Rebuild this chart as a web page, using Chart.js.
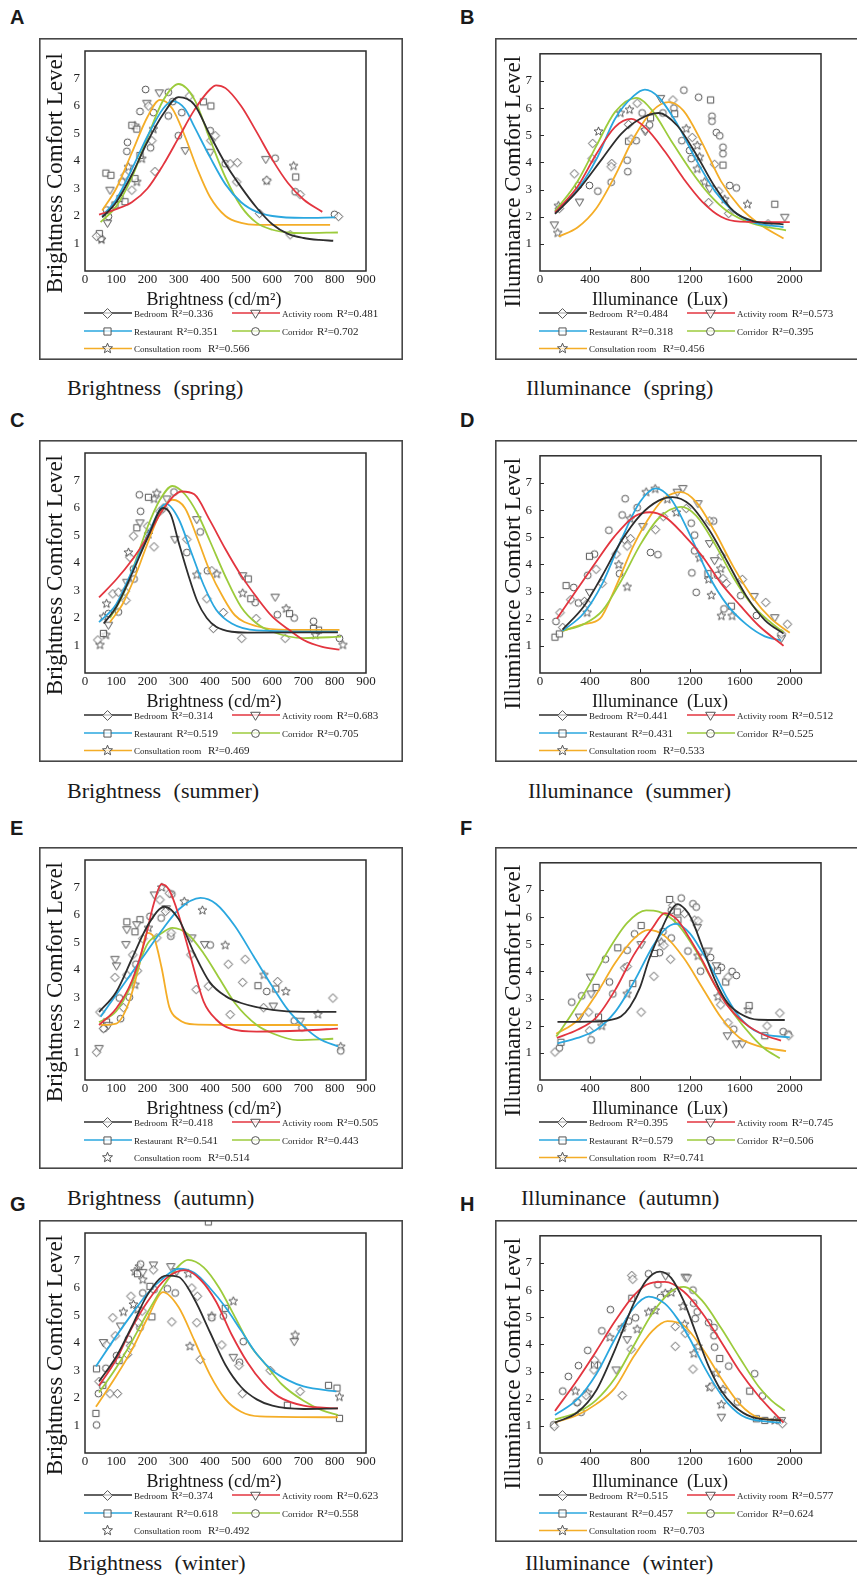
<!DOCTYPE html>
<html>
<head>
<meta charset="utf-8">
<title>Brightness and illuminance comfort level</title>
<script src="https://cdn.jsdelivr.net/npm/chart.js@4.4.1/dist/chart.umd.min.js"></script>
<style>
    html, body { margin: 0; padding: 0; background: #fff; }
    body { position: relative; width: 857px; height: 1585px; overflow: hidden;
           font-family: "Liberation Serif", "Times New Roman", serif; color: #1a1a1a; }
    .tag { position: absolute; font: bold 20px "Liberation Sans", Arial, sans-serif; line-height: 20px; }
    .caption { position: absolute; font-size: 22px; line-height: 22px; word-spacing: 7px; white-space: nowrap; }
    canvas { position: absolute; }
</style>
</head>
<body>
<script>

//////////////////////////////////////////      Data     ///////////////////////////////////////////

const ROOMS = ['Bedroom', 'Activity room', 'Restaurant', 'Corridor', 'Consultation room'];

// A - brightness, spring
const fitA_bed = [[55,1.95],[100,2.5],[150,3.5],[200,4.7],[250,5.7],[300,6.32],[350,6.05],[400,4.95],[450,3.9],[500,3.05],[550,2.3],[600,1.7],[650,1.35],[700,1.2],[750,1.13],[795,1.1]];
const fitA_act = [[45,2.05],[100,2.25],[150,2.5],[200,3.0],[250,3.85],[300,4.85],[350,5.85],[400,6.6],[420,6.75],[450,6.65],[500,6.0],[550,5.05],[600,4.05],[650,3.2],[700,2.6],[760,2.15]];
const fitA_res = [[55,2.0],[100,2.6],[150,3.7],[200,4.9],[250,5.9],[280,6.18],[320,5.9],[350,5.25],[400,4.15],[450,3.15],[500,2.5],[550,2.15],[600,2.0],[700,1.93],[800,1.95]];
const fitA_cor = [[50,1.78],[100,2.35],[150,3.4],[200,4.85],[250,6.2],[300,6.8],[350,6.25],[400,4.8],[450,3.4],[500,2.35],[550,1.75],[600,1.5],[650,1.4],[700,1.38],[810,1.4]];
const fitA_con = [[55,2.2],[100,3.0],[150,4.3],[200,5.6],[240,6.22],[280,5.9],[320,4.9],[360,3.7],[400,2.7],[450,2.0],[500,1.75],[550,1.68],[785,1.68]];
const ptsA_bed = [[37,1.26],[128,3.48],[203,6.0],[214,4.74],[224,3.62],[334,6.36],[403,4.74],[417,4.92],[465,3.9],[488,3.94],[486,3.24],[582,3.3],[689,2.78],[559,2.09],[657,1.32],[812,1.98],[150,2.94]];
const ptsA_act = [[80,2.94],[72,1.74],[238,6.48],[321,4.38],[401,4.32],[579,4.06],[198,6.1]];
const ptsA_res = [[67,3.56],[83,3.48],[96,2.4],[112,2.64],[150,5.3],[379,6.15],[403,6.0],[675,3.42],[166,5.16],[176,4.2],[160,3.36],[128,2.52],[46,1.36]];
const ptsA_cor = [[69,2.22],[75,1.98],[118,3.24],[134,4.35],[136,4.68],[176,5.8],[194,6.6],[210,4.48],[219,5.76],[267,6.5],[267,5.64],[299,4.92],[281,6.16],[310,5.76],[401,5.1],[449,3.9],[609,4.1],[673,2.88],[799,2.06],[51,1.18]];
const ptsA_con = [[139,3.78],[160,5.28],[219,5.16],[582,3.28],[668,3.82],[182,4.08],[166,3.24],[53,1.14]];
const r2A = [0.336, 0.481, 0.351, 0.702, 0.566];

// B - illuminance, spring
const fitB_bed = [[120,2.1],[300,2.95],[500,4.15],[650,5.05],[800,5.6],[950,5.82],[1100,5.35],[1250,4.3],[1400,3.1],[1550,2.2],[1700,1.85],[1950,1.72]];
const fitB_act = [[120,2.15],[300,3.1],[450,4.3],[600,5.3],[730,5.6],[850,5.25],[1000,4.4],[1150,3.4],[1300,2.55],[1450,2.0],[1600,1.82],[2000,1.8]];
const fitB_res = [[120,2.15],[300,3.0],[450,4.1],[600,5.6],[750,6.45],[840,6.68],[950,6.4],[1100,5.4],[1250,4.1],[1400,2.95],[1550,2.2],[1700,1.8],[1950,1.62]];
const fitB_cor = [[120,2.2],[300,3.3],[450,4.6],[600,5.85],[770,6.38],[900,5.9],[1050,4.8],[1200,3.75],[1350,2.85],[1500,2.2],[1700,1.75],[1970,1.5]];
const fitB_con = [[150,1.27],[300,1.6],[450,2.3],[600,3.5],[750,4.9],[900,5.9],[1030,6.22],[1150,5.9],[1300,4.7],[1450,3.3],[1600,2.35],[1750,1.75],[1950,1.2]];
const ptsB_bed = [[155,2.3],[275,3.58],[422,4.7],[417,4.14],[575,3.96],[570,3.84],[709,5.4],[730,4.86],[778,6.18],[845,5.22],[1064,6.3],[1219,4.92],[1398,3.93],[1431,2.94],[1511,2.12],[1350,2.52],[1826,1.74]];
const ptsB_act = [[115,1.7],[316,2.54],[842,5.14],[965,6.36],[1358,3.03],[1960,1.98]];
const ptsB_res = [[709,4.78],[885,5.64],[1078,5.79],[1366,6.3],[1465,3.9],[1880,2.46]];
const ptsB_cor = [[307,3.15],[396,3.15],[463,2.94],[570,3.27],[698,4.08],[703,3.66],[770,4.8],[818,5.82],[877,5.38],[984,5.82],[1072,6.0],[1152,6.66],[1136,4.8],[1198,4.44],[1211,4.14],[1270,6.4],[1377,5.7],[1377,5.52],[1412,5.1],[1439,4.98],[1465,4.56],[1465,4.32],[1519,3.15],[1572,3.06]];
const ptsB_con = [[142,1.4],[147,2.4],[468,5.14],[644,5.82],[717,5.94],[1171,5.24],[1259,4.62],[1278,4.2],[1259,3.76],[1318,3.28],[1479,2.64],[1661,2.46]];
const r2B = [0.484, 0.573, 0.318, 0.395, 0.456];

// C - brightness, summer
const fitC_bed = [[60,1.8],[100,2.4],[150,3.6],[200,4.9],[250,6.0],[275,5.75],[300,4.75],[330,3.6],[360,2.6],[390,2.0],[420,1.68],[470,1.5],[520,1.47],[810,1.48]];
const fitC_act = [[45,2.75],[100,3.4],[150,4.1],[200,4.95],[250,5.95],[310,6.6],[350,6.5],[400,5.55],[450,4.5],[500,3.55],[550,2.75],[600,2.05],[650,1.6],[700,1.2],[760,0.95],[815,0.85]];
const fitC_res = [[45,1.85],[100,2.5],[150,3.7],[200,5.0],[260,6.15],[300,5.6],[340,4.4],[380,3.2],[420,2.3],[470,1.8],[550,1.55],[810,1.5]];
const fitC_cor = [[80,2.0],[120,2.8],[160,4.0],[200,5.3],[240,6.3],[280,6.8],[320,6.5],[360,5.8],[400,4.8],[450,3.5],[500,2.4],[550,1.8],[600,1.5],[700,1.27],[820,1.32]];
const fitC_con = [[80,1.85],[120,2.5],[160,3.5],[200,4.7],[240,5.8],[280,6.3],[320,6.0],[360,4.9],[400,3.7],[440,2.8],[480,2.1],[550,1.7],[650,1.57],[815,1.57]];
const ptsC_bed = [[41,1.2],[89,2.88],[107,2.94],[131,2.64],[128,2.97],[144,4.2],[155,4.98],[201,5.34],[221,4.59],[240,5.88],[251,6.0],[326,4.86],[390,2.7],[406,3.72],[443,2.2],[411,1.62],[548,1.98],[502,1.26],[641,1.26]];
const ptsC_act = [[75,1.74],[134,3.3],[176,5.46],[262,6.33],[288,4.86],[358,5.58],[505,3.54],[609,2.76]];
const ptsC_res = [[59,1.44],[166,5.28],[203,6.39],[523,3.42],[531,2.7],[655,2.16],[748,1.56],[732,1.62]];
const ptsC_cor = [[75,2.16],[107,2.22],[155,3.78],[157,3.42],[174,6.48],[178,5.88],[285,6.58],[326,4.38],[369,5.13],[392,3.72],[545,2.56],[616,2.12],[670,2.0],[732,1.88],[815,1.26]];
const ptsC_con = [[48,1.02],[67,1.38],[69,2.52],[59,2.04],[139,4.38],[203,5.04],[230,6.54],[221,6.33],[358,3.57],[422,3.6],[505,2.9],[644,2.34],[738,1.38],[826,1.02]];
const r2C = [0.314, 0.683, 0.519, 0.705, 0.469];

// D - illuminance, summer
const fitD_bed = [[180,1.6],[350,2.45],[500,3.6],[650,4.85],[800,5.8],[950,6.35],[1060,6.48],[1200,6.2],[1350,5.3],[1500,4.1],[1650,2.85],[1800,1.95],[1950,1.45]];
const fitD_act = [[135,2.0],[300,3.1],[450,4.1],[600,5.05],[750,5.75],[880,5.92],[1000,5.75],[1150,5.1],[1300,4.3],[1450,3.3],[1600,2.5],[1750,1.75],[1950,1.0]];
const fitD_res = [[180,1.55],[350,2.2],[500,3.3],[650,4.9],[800,6.3],[930,6.8],[1050,6.4],[1200,5.1],[1350,3.6],[1500,2.5],[1650,1.8],[1800,1.35],[1930,1.2]];
const fitD_cor = [[180,1.55],[350,1.8],[500,2.3],[650,3.4],[800,4.7],[950,5.7],[1130,6.12],[1250,5.8],[1400,4.75],[1550,3.5],[1700,2.5],[1850,1.85],[1950,1.5]];
const fitD_con = [[180,1.55],[350,1.8],[480,2.0],[600,3.1],[750,4.7],[900,5.9],[1000,6.45],[1130,6.66],[1250,6.3],[1400,5.2],[1550,3.9],[1700,2.8],[1850,2.0],[2000,1.48]];
const ptsD_bed = [[160,2.22],[182,1.68],[246,2.7],[356,2.64],[377,2.56],[449,3.82],[497,3.3],[610,4.38],[676,4.92],[698,4.68],[725,4.95],[925,5.28],[987,5.76],[1171,6.06],[1358,5.6],[1452,4.32],[1465,3.48],[1492,3.3],[1620,3.45],[1808,2.6],[1933,1.44],[1981,1.8]];
const ptsD_act = [[396,2.97],[824,5.4],[1099,6.66],[1144,6.8],[1265,6.24],[1358,4.77],[1398,4.14],[1714,2.82],[1880,2.04],[1933,1.28]];
const ptsD_res = [[120,1.32],[155,1.44],[209,3.22],[396,4.3],[1345,3.66],[1532,2.46]];
const ptsD_cor = [[128,1.9],[270,3.15],[308,2.58],[436,4.38],[382,3.6],[551,5.26],[637,3.66],[682,6.42],[658,5.82],[778,6.09],[885,4.44],[944,4.36],[1211,5.52],[1238,5.08],[1238,4.5],[1216,3.69],[1251,2.97],[1390,5.6],[1420,3.6],[1473,2.36],[1607,2.85],[1733,2.12]];
const ptsD_con = [[377,2.22],[631,3.99],[698,3.17],[722,5.68],[850,6.66],[922,6.78],[1019,6.4],[1091,5.91],[1278,4.24],[1350,3.45],[1447,3.84],[1372,2.86],[1452,2.1],[1538,2.1]];
const r2D = [0.441, 0.512, 0.431, 0.525, 0.533];

// E - brightness, autumn
const fitE_bed = [[45,2.47],[100,3.2],[150,4.4],[200,5.6],[255,6.3],[300,5.85],[350,4.6],[400,3.55],[450,3.05],[500,2.8],[600,2.55],[700,2.48],[805,2.48]];
const fitE_act = [[45,2.0],[100,2.6],[150,3.6],[190,5.0],[220,6.4],[245,7.12],[270,6.9],[300,6.0],[340,4.4],[380,2.85],[420,2.2],[470,1.85],[550,1.76],[700,1.8],[810,1.87]];
const fitE_res = [[50,2.3],[100,3.1],[150,3.9],[200,4.7],[250,5.5],[300,6.2],[370,6.62],[420,6.4],[480,5.6],[540,4.5],[600,3.4],[650,2.55],[700,1.95],[750,1.5],[810,1.22]];
const fitE_cor = [[45,2.1],[100,2.5],[150,3.5],[200,4.95],[240,5.3],[280,5.53],[330,5.3],[380,4.6],[430,3.7],[480,2.8],[550,2.0],[600,1.7],[680,1.45],[795,1.5]];
const fitE_con = [[50,2.0],[100,2.05],[140,2.8],[170,4.0],[200,5.35],[220,5.2],[245,4.1],[270,2.65],[300,2.2],[350,2.02],[500,2.0],[810,2.0]];
const ptsE_bed = [[37,1.01],[48,2.47],[59,1.87],[96,3.73],[123,2.63],[134,3.82],[153,4.55],[168,3.97],[185,5.14],[230,5.17],[240,6.55],[258,6.13],[270,6.79],[276,5.35],[339,4.55],[356,3.29],[395,3.41],[459,4.21],[513,4.39],[505,3.55],[572,2.63],[617,3.58],[465,2.38],[794,2.98]];
const ptsE_act = [[45,1.15],[75,1.99],[96,4.39],[101,4.15],[131,4.93],[134,5.47],[166,5.65],[222,6.73],[260,6.23],[342,5.17],[383,4.93],[603,2.69],[689,2.14]];
const ptsE_res = [[69,2.11],[134,5.75],[160,5.39],[176,5.83],[554,3.43],[611,3.31]];
const ptsE_cor = [[61,1.87],[110,2.98],[114,2.23],[142,3.01],[163,4.21],[208,5.95],[244,5.89],[278,6.76],[275,5.23],[401,4.91],[582,3.22],[670,2.15],[695,1.9],[819,1.06]];
const ptsE_con = [[160,3.46],[203,5.53],[246,7.0],[318,6.49],[376,6.17],[449,4.9],[573,3.82],[643,3.22],[746,2.39],[819,1.21]];
const r2E = [0.418, 0.505, 0.541, 0.443, 0.514];

// F - illuminance, autumn
const fitF_bed = [[140,2.14],[400,2.15],[550,2.2],[650,2.35],[720,2.7],[800,3.4],[870,4.4],[950,5.3],[1030,6.1],[1100,6.48],[1160,6.3],[1211,5.95],[1300,4.9],[1400,3.7],[1500,2.85],[1600,2.45],[1750,2.22],[1960,2.21]];
const fitF_act = [[135,1.55],[300,1.85],[450,2.3],[600,3.3],[750,4.6],[900,5.6],[1000,6.15],[1100,5.9],[1200,5.2],[1300,4.4],[1400,3.5],[1500,2.75],[1650,2.05],[1800,1.65],[1930,1.45]];
const fitF_res = [[140,1.35],[300,1.55],[450,1.85],[600,2.5],[750,3.6],[900,4.9],[1000,5.55],[1090,5.75],[1200,5.4],[1300,4.7],[1400,3.9],[1500,3.0],[1600,2.3],[1750,1.75],[2000,1.57]];
const fitF_cor = [[130,1.6],[250,2.4],[400,3.55],[550,4.8],[700,5.8],[850,6.25],[950,6.2],[1100,5.75],[1250,4.75],[1400,3.5],[1550,2.45],[1700,1.6],[1800,1.15],[1920,0.8]];
const fitF_con = [[130,1.7],[300,2.2],[450,3.15],[600,4.3],[750,5.2],[870,5.53],[1000,5.3],[1150,4.5],[1300,3.4],[1450,2.3],[1600,1.55],[1750,1.25],[1970,1.06]];
const ptsF_bed = [[120,1.03],[390,2.5],[396,1.81],[677,4.13],[698,4.18],[810,2.5],[912,3.82],[992,4.96],[1045,4.45],[1064,6.43],[1158,6.13],[1238,5.89],[1265,5.86],[1447,2.77],[1505,3.79],[1505,2.11],[1818,1.99],[1920,2.47],[1992,1.63]];
const ptsF_act = [[316,2.32],[404,3.79],[409,3.17],[810,4.99],[1259,5.62],[1345,4.75],[1412,4.21],[1500,1.63],[1572,1.33],[1620,1.33]];
const ptsF_res = [[168,1.39],[449,3.41],[468,2.32],[623,4.87],[743,3.55],[810,5.69],[917,4.66],[1038,6.65],[1099,6.19],[1104,5.89],[1420,4.03],[1487,3.61],[1674,2.74],[1800,1.63]];
const ptsF_cor = [[155,1.18],[254,2.87],[334,3.1],[409,1.48],[524,4.45],[556,3.61],[583,3.17],[698,4.78],[757,5.38],[957,4.69],[984,5.47],[1051,5.23],[1051,6.25],[1131,6.7],[1185,4.75],[1225,6.49],[1251,6.37],[1286,4.01],[1366,4.51],[1452,4.15],[1538,4.0],[1572,3.85],[1551,1.87],[1947,1.78],[1987,1.69]];
const ptsF_con = [[495,1.99],[698,3.17],[971,5.08],[1265,4.57],[1425,3.07],[1666,2.59]];
const r2F = [0.395, 0.745, 0.579, 0.506, 0.741];

// G - brightness, winter
const fitG_bed = [[45,2.6],[100,3.5],[150,4.6],[200,5.75],[260,6.45],[300,6.4],[350,5.6],[400,4.4],[450,3.2],[500,2.4],[550,1.95],[600,1.72],[700,1.6],[810,1.62]];
const fitG_act = [[45,2.45],[100,3.4],[150,4.55],[200,5.5],[260,6.35],[320,6.65],[370,6.3],[420,5.5],[470,4.3],[520,3.3],[570,2.55],[620,2.05],[700,1.72],[810,1.62]];
const fitG_res = [[35,3.15],[100,4.25],[150,5.05],[200,5.8],[250,6.35],[300,6.7],[350,6.55],[400,6.0],[450,5.3],[500,4.45],[550,3.6],[600,3.0],[650,2.65],[700,2.42],[805,2.24]];
const fitG_cor = [[45,2.2],[100,3.1],[150,4.05],[200,5.1],[250,6.05],[300,6.8],[330,7.02],[380,6.75],[430,6.0],[480,4.95],[530,3.9],[580,3.2],[630,2.5],[700,1.9],[760,1.55],[810,1.38]];
const fitG_con = [[35,1.68],[100,2.8],[150,3.75],[200,4.9],[250,5.85],[300,5.3],[350,4.1],[400,2.85],[450,1.95],[500,1.5],[560,1.33],[810,1.3]];
const ptsG_bed = [[45,2.6],[69,3.93],[80,2.16],[104,2.16],[89,4.92],[97,4.26],[136,3.58],[147,5.7],[146,3.9],[171,4.74],[183,5.16],[219,6.66],[278,4.77],[342,6.0],[369,3.4],[360,5.7],[358,4.74],[438,3.93],[493,3.18],[504,2.16],[593,3.0],[689,2.24]];
const ptsG_act = [[59,4.02],[114,4.62],[185,6.57],[219,6.84],[275,6.78],[294,6.6],[475,3.48],[670,4.05]];
const ptsG_res = [[35,1.44],[37,3.06],[57,2.46],[109,3.36],[168,6.52],[214,4.95],[208,6.06],[449,5.26],[648,1.74],[780,2.46],[807,2.36],[815,1.26],[395,8.4]];
const ptsG_cor = [[37,1.02],[43,2.16],[67,3.08],[101,3.54],[139,4.14],[178,6.87],[185,5.82],[176,4.56],[221,5.94],[264,5.97],[289,5.82],[406,4.92],[443,4.98],[495,3.3],[507,4.05]];
const ptsG_con = [[123,5.13],[155,5.4],[160,6.6],[174,6.78],[185,6.3],[169,5.22],[331,6.52],[336,3.88],[406,4.98],[475,5.52],[673,4.29],[815,2.04]];
const r2G = [0.374, 0.623, 0.618, 0.558, 0.492];

// H - illuminance, winter
const fitH_bed = [[120,1.12],[300,1.5],[450,2.3],[600,3.8],[750,5.5],[850,6.35],[960,6.68],[1050,6.45],[1150,5.6],[1250,4.4],[1350,3.2],[1450,2.3],[1550,1.75],[1700,1.32],[1930,1.2]];
const fitH_act = [[120,1.55],[300,2.7],[450,3.75],[600,4.85],[750,5.8],[880,6.25],[1000,6.3],[1150,5.95],[1300,5.15],[1450,4.1],[1600,3.0],[1750,2.1],[1850,1.6],[1950,1.12]];
const fitH_res = [[120,1.4],[300,1.98],[450,2.9],[600,4.2],[750,5.35],[870,5.76],[1000,5.5],[1100,4.95],[1200,4.2],[1300,3.3],[1400,2.5],[1500,1.85],[1650,1.3],[1930,1.12]];
const fitH_cor = [[120,1.24],[300,1.5],[450,1.95],[600,2.75],[750,3.95],[900,5.15],[1050,5.95],[1150,6.12],[1300,5.6],[1450,4.6],[1600,3.5],[1750,2.45],[1850,1.95],[1960,1.56]];
const fitH_con = [[120,1.12],[300,1.4],[450,1.8],[600,2.4],[750,3.55],[900,4.5],[1020,4.86],[1150,4.7],[1300,3.85],[1450,2.75],[1600,1.8],[1750,1.3],[1930,1.2]];
const ptsH_bed = [[115,0.98],[297,1.88],[369,2.12],[431,3.06],[436,3.42],[658,2.12],[650,4.56],[735,6.54],[743,6.4],[730,3.82],[1083,4.66],[1083,3.93],[1163,4.41],[1225,3.09],[1372,2.44],[1941,1.08]];
const ptsH_act = [[610,3.06],[698,4.18],[1005,6.52],[1163,6.48],[1179,6.45],[1452,1.32],[1933,1.2]];
const ptsH_res = [[436,3.24],[735,5.7],[1439,3.48],[1679,2.28],[1733,1.26],[1800,1.2]];
const ptsH_cor = [[110,1.04],[182,2.28],[227,2.82],[297,1.86],[308,3.22],[329,1.5],[382,3.78],[463,3.24],[495,4.5],[564,5.28],[709,4.86],[765,4.98],[869,6.6],[944,6.2],[965,5.73],[1225,6.0],[1230,5.52],[1259,5.2],[1243,4.95],[1350,4.8],[1393,4.62],[1393,4.32],[1398,3.9],[1511,3.2],[1580,1.88],[1719,2.92],[1781,2.1]];
const ptsH_con = [[283,2.28],[382,2.22],[559,4.26],[658,4.62],[778,4.56],[869,5.19],[922,5.25],[1003,5.88],[1051,5.91],[1144,5.4],[1158,4.74],[1232,3.66],[1265,3.92],[1358,2.42],[1412,2.94],[1452,1.78],[1465,2.34],[1880,1.2]];
const r2H = [0.515, 0.577, 0.457, 0.624, 0.703];

const yTicks = [1, 2, 3, 4, 5, 6, 7];
const brightTicks = [0, 100, 200, 300, 400, 500, 600, 700, 800, 900];
const luxTicks = [0, 400, 800, 1200, 1600, 2000];

//////////////////////////////////////////      Layout     ///////////////////////////////////////////

const SERIF = '"Liberation Serif", "Times New Roman", serif';
const CURVE_COLORS = ['#2e2e2e', '#e3353f', '#2aa7df', '#9ccb3c', '#f4ad27'];
const MARKERS = ['diamond', 'triangleDown', 'square', 'circle', 'star'];

const rowTop = [38, 440, 847, 1220];
const tagY = [7, 410, 818, 1194];
const capY = [377, 780, 1187, 1552];
const capXLeft = [67, 67, 67, 68];
const capXRight = [526, 528, 521, 525];

const panels = [
    { tag: 'A', row: 0, lux: false, caption: 'Brightness (spring)', r2: r2A,
      fits: [fitA_bed, fitA_act, fitA_res, fitA_cor, fitA_con], pts: [ptsA_bed, ptsA_act, ptsA_res, ptsA_cor, ptsA_con] },
    { tag: 'B', row: 0, lux: true, caption: 'Illuminance (spring)', r2: r2B,
      fits: [fitB_bed, fitB_act, fitB_res, fitB_cor, fitB_con], pts: [ptsB_bed, ptsB_act, ptsB_res, ptsB_cor, ptsB_con] },
    { tag: 'C', row: 1, lux: false, caption: 'Brightness (summer)', r2: r2C,
      fits: [fitC_bed, fitC_act, fitC_res, fitC_cor, fitC_con], pts: [ptsC_bed, ptsC_act, ptsC_res, ptsC_cor, ptsC_con] },
    { tag: 'D', row: 1, lux: true, caption: 'Illuminance (summer)', r2: r2D,
      fits: [fitD_bed, fitD_act, fitD_res, fitD_cor, fitD_con], pts: [ptsD_bed, ptsD_act, ptsD_res, ptsD_cor, ptsD_con] },
    { tag: 'E', row: 2, lux: false, caption: 'Brightness (autumn)', r2: r2E, starOnly: true,
      fits: [fitE_bed, fitE_act, fitE_res, fitE_cor, fitE_con], pts: [ptsE_bed, ptsE_act, ptsE_res, ptsE_cor, ptsE_con] },
    { tag: 'F', row: 2, lux: true, caption: 'Illuminance (autumn)', r2: r2F,
      fits: [fitF_bed, fitF_act, fitF_res, fitF_cor, fitF_con], pts: [ptsF_bed, ptsF_act, ptsF_res, ptsF_cor, ptsF_con] },
    { tag: 'G', row: 3, lux: false, caption: 'Brightness (winter)', r2: r2G, starOnly: true,
      fits: [fitG_bed, fitG_act, fitG_res, fitG_cor, fitG_con], pts: [ptsG_bed, ptsG_act, ptsG_res, ptsG_cor, ptsG_con] },
    { tag: 'H', row: 3, lux: true, caption: 'Illuminance (winter)', r2: r2H,
      fits: [fitH_bed, fitH_act, fitH_res, fitH_cor, fitH_con], pts: [ptsH_bed, ptsH_act, ptsH_res, ptsH_cor, ptsH_con] }
];

//////////////////////////////////////////      Markers     ///////////////////////////////////////////

/*
 * Function:    makeMarker
 *
 * Description: Draw one hollow grey marker on a small canvas, used as pointStyle.
 *
 * In:  shape, k (scale)
 * Out: canvas
 *
 */
function makeMarker(shape, k) {

    const c = document.createElement('canvas');
    c.width = c.height = 2 * Math.ceil(6 * k) + 1;
    const g = c.getContext('2d');
    const m = c.width / 2;

    g.beginPath();
    switch (shape) {
        case 'circle' :       g.arc(m, m, 3.4 * k, 0, Math.PI * 2);
                              break;

        case 'square' :       g.rect(m - 3.1 * k, m - 3.1 * k, 6.2 * k, 6.2 * k);
                              break;

        case 'diamond' :      g.moveTo(m, m - 4.3 * k); g.lineTo(m + 4.3 * k, m);
                              g.lineTo(m, m + 4.3 * k); g.lineTo(m - 4.3 * k, m);
                              g.closePath();
                              break;

        case 'triangleDown' : g.moveTo(m - 4.2 * k, m - 2.8 * k); g.lineTo(m + 4.2 * k, m - 2.8 * k);
                              g.lineTo(m, m + 4.2 * k);
                              g.closePath();
                              break;

        case 'star' :         for (let i = 0; i < 10; i++) {
                                  const r = (i % 2 === 0 ? 4.6 : 2.0) * k;
                                  const a = -Math.PI / 2 + i * Math.PI / 5;
                                  if (i === 0) g.moveTo(m + r * Math.cos(a), m + r * Math.sin(a));
                                  else g.lineTo(m + r * Math.cos(a), m + r * Math.sin(a));
                              }
                              g.closePath();
                              break;
    }
    g.fillStyle = 'rgba(255,255,255,0.7)';
    g.fill();
    g.strokeStyle = '#555555';
    g.lineWidth = 1;
    g.stroke();

    return c;
}

const pointImgs = MARKERS.map(s => makeMarker(s, 1));
const legendImgs = MARKERS.map(s => makeMarker(s, 1.15));

//////////////////////////////////////////      Plugin     ///////////////////////////////////////////

// Frames, axis titles, inner ticks and the room legend under each plot.
const panelDeco = {
    id: 'panelDeco',
    afterDraw(chart, args, o) {

        const ctx = chart.ctx;
        const a = chart.chartArea;
        ctx.save();

        // Outer panel frame (the right column runs past the page edge).
        ctx.strokeStyle = '#474747';
        ctx.lineWidth = 1.6;
        ctx.strokeRect(0.8, 0.8, o.frameWidth - 1.6, chart.height - 1.6);

        // Plot frame.
        ctx.strokeStyle = '#2b2b2b';
        ctx.lineWidth = 1.5;
        ctx.strokeRect(a.left, a.top, a.right - a.left, a.bottom - a.top);

        // Short inward ticks on the illuminance plots.
        if (o.innerTicks) {
            ctx.lineWidth = 1;
            ctx.beginPath();
            o.xTicks.forEach(v => {
                if (v === 0) return;
                const x = Math.round(chart.scales.x.getPixelForValue(v)) + 0.5;
                ctx.moveTo(x, a.bottom); ctx.lineTo(x, a.bottom - 4);
            });
            yTicks.forEach(v => {
                const y = Math.round(chart.scales.y.getPixelForValue(v)) + 0.5;
                ctx.moveTo(a.left, y); ctx.lineTo(a.left + 4, y);
            });
            ctx.stroke();
        }

        // Axis titles.
        ctx.fillStyle = '#151515';
        ctx.textBaseline = 'middle';
        ctx.textAlign = 'center';
        ctx.font = '18px ' + SERIF;
        ctx.fillText(o.xTitle, o.xTitleX, 262);

        ctx.save();
        ctx.translate(o.yTitleX, a.top + 2);
        ctx.rotate(-Math.PI / 2);
        ctx.textAlign = 'right';
        ctx.font = '23px ' + SERIF;
        ctx.fillText(o.yTitle, 0, 0);
        ctx.restore();

        // Legend: two columns, three rows.
        const rowsY = [275, 293, 310.5];
        const slots = [[0, 0], [1, 0], [0, 1], [1, 1], [0, 2]];
        ctx.textAlign = 'left';
        ctx.textBaseline = 'alphabetic';
        for (let i = 0; i < ROOMS.length; i++) {
            const x0 = slots[i][0] === 0 ? a.left - 1 : a.left + 147;
            const y = rowsY[slots[i][1]];

            if (!(i === 4 && o.starOnly)) {
                ctx.strokeStyle = CURVE_COLORS[i];
                ctx.lineWidth = 1.4;
                ctx.beginPath();
                ctx.moveTo(x0, y); ctx.lineTo(x0 + 48, y);
                ctx.stroke();
            }
            const img = legendImgs[i];
            ctx.drawImage(img, Math.round(x0 + 23 - img.width / 2), Math.round(y - img.height / 2));

            ctx.fillStyle = '#1e1e1e';
            ctx.font = '9px ' + SERIF;
            ctx.fillText(ROOMS[i], x0 + 50, y + 3.5);
            const w = ctx.measureText(ROOMS[i]).width;
            ctx.font = '11px ' + SERIF;
            const rx = i === 4 ? x0 + 124 : x0 + 54 + w;
            ctx.fillText('R\u00B2=' + o.r2[i].toFixed(3), rx, y + 3.5);
        }

        ctx.restore();
    }
};

//////////////////////////////////////////      Charts     ///////////////////////////////////////////

Chart.defaults.font.family = SERIF;
Chart.defaults.color = '#1e1e1e';

/*
 * Function:    buildPanel
 *
 * Description: Place the tag, caption and chart canvas of one panel and draw it.
 *
 * In:  p
 * Out: chart
 *
 */
function buildPanel(p) {

    const geo = p.lux
        ? { x: 495, w: 362, frameW: 430, plotL: 45, plotR: 326, pad: 8, tagX: 460, capX: capXRight }
        : { x: 39, w: 364, frameW: 364, plotL: 46, plotR: 327, pad: 5, tagX: 10, capX: capXLeft };
    const top = rowTop[p.row];

    const tag = document.createElement('div');
    tag.className = 'tag';
    tag.textContent = p.tag;
    tag.style.left = geo.tagX + 'px';
    tag.style.top = tagY[p.row] + 'px';
    document.body.appendChild(tag);

    const cap = document.createElement('div');
    cap.className = 'caption';
    cap.textContent = p.caption;
    cap.style.left = geo.capX[p.row] + 'px';
    cap.style.top = capY[p.row] + 'px';
    document.body.appendChild(cap);

    const cv = document.createElement('canvas');
    cv.width = geo.w;
    cv.height = 322;
    cv.style.left = geo.x + 'px';
    cv.style.top = top + 'px';
    document.body.appendChild(cv);

    const xTicks = p.lux ? luxTicks : brightTicks;
    const datasets = [];

    p.fits.forEach((d, i) => datasets.push({
        label: ROOMS[i] + ' fit',
        data: d,
        borderColor: CURVE_COLORS[i],
        borderWidth: 1.8,
        pointRadius: 0,
        cubicInterpolationMode: 'monotone',
        fill: false,
        order: 0
    }));

    p.pts.forEach((d, i) => datasets.push({
        label: ROOMS[i],
        data: d,
        showLine: false,
        pointStyle: pointImgs[i],
        pointRadius: 12,
        clip: false,
        order: 1
    }));

    return new Chart(cv, {
        type: 'line',
        data: { datasets },
        plugins: [panelDeco],
        options: {
            responsive: false,
            animation: false,
            events: [],
            layout: { padding: { left: 0, top: 10, right: geo.w - geo.plotR, bottom: 0 } },
            plugins: {
                legend: { display: false },
                tooltip: { enabled: false },
                panelDeco: {
                    frameWidth: geo.frameW,
                    innerTicks: p.lux,
                    xTicks: xTicks,
                    xTitle: p.lux ? 'Illuminance\u2002(Lux)' : 'Brightness (cd/m\u00B2)',
                    xTitleX: p.lux ? 165 : 175,
                    yTitle: p.lux ? 'Illuminance Comfort Level' : 'Brightness Comfort Level',
                    yTitleX: p.lux ? 19 : 17,
                    r2: p.r2,
                    starOnly: !!p.starOnly
                }
            },
            scales: {
                x: {
                    type: 'linear',
                    min: 0,
                    max: p.lux ? 2250 : 900,
                    border: { display: false },
                    grid: { display: false, drawTicks: false },
                    afterBuildTicks: s => { s.ticks = xTicks.map(v => ({ value: v })); },
                    ticks: { padding: 1, autoSkip: false, maxRotation: 0, font: { size: 13 }, color: '#1e1e1e',
                             callback: v => String(v) },
                    afterFit: s => { s.height = 89; }
                },
                y: {
                    type: 'linear',
                    min: 0,
                    max: 8,
                    border: { display: false },
                    grid: { display: false, drawTicks: false },
                    afterBuildTicks: s => { s.ticks = yTicks.map(v => ({ value: v })); },
                    ticks: { padding: geo.pad, autoSkip: false, font: { size: 13 }, color: '#1e1e1e',
                             callback: v => String(v) },
                    afterFit: s => { s.width = geo.plotL; }
                }
            }
        }
    });
}

panels.forEach(buildPanel);

</script>
</body>
</html>
